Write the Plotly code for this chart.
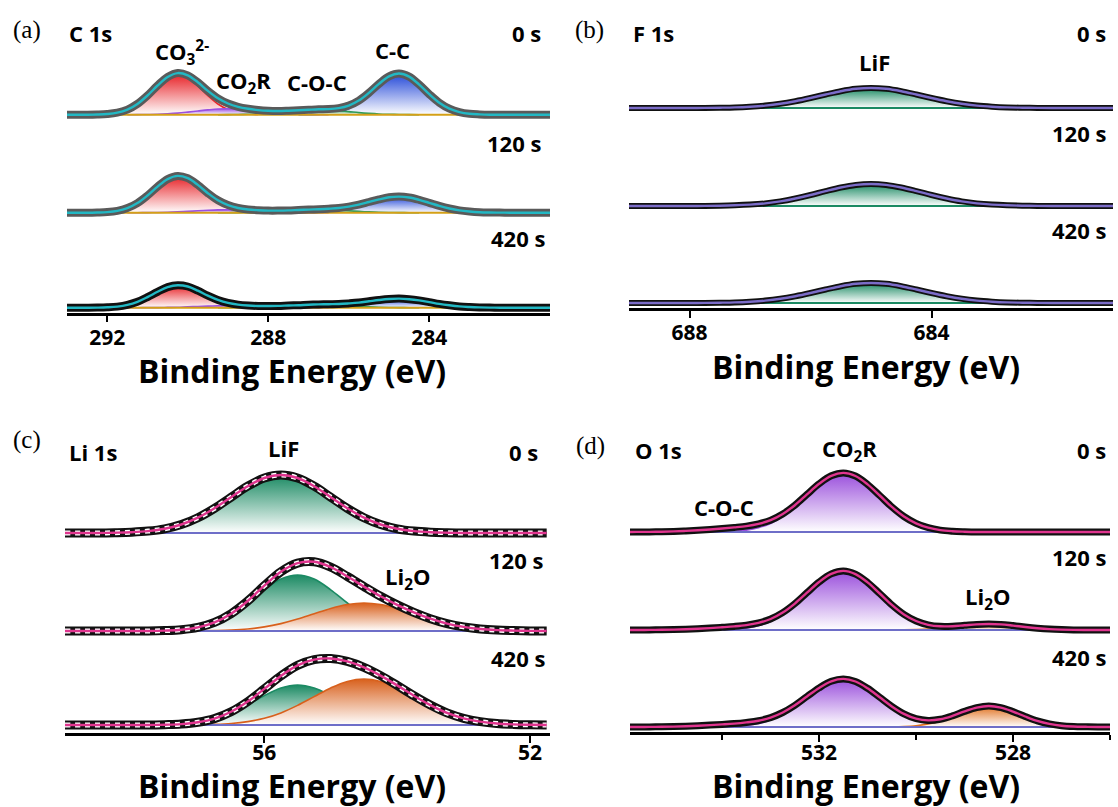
import plotly.graph_objects as go

W, H = 1118, 807
STEP = 0.25
TIMES = ["0 s", "120 s", "420 s"]

# ---------------- (a) C 1s ----------------
C1S_GRID_START, C1S_GRID_N = 293.0, 49
C1S_XRANGE = [293.0, 281.0]
C1S_TICKS = [292, 288, 284]
C1S_OFFSET = [198, 100, 5]
C1S_CO3_START = 292.25
C1S_CO3 = [
    [0.2, 0.7, 2.0, 5.1, 10.7, 19.0, 28.8, 36.8, 40, 36.8, 28.8, 19.0, 10.7, 5.1, 2.0, 0.7, 0.2],
    [0.2, 0.6, 1.8, 4.6, 9.6, 17.1, 25.9, 33.2, 36, 33.2, 25.9, 17.1, 9.6, 4.6, 1.8, 0.6, 0.2],
    [0.1, 0.4, 1.1, 2.8, 5.9, 10.5, 15.8, 20.3, 22, 20.3, 15.8, 10.5, 5.9, 2.8, 1.1, 0.4, 0.1],
]
C1S_CC_START = 287.25
C1S_CC = [
    [0, 0, 0.3, 0.9, 2.6, 6.0, 12.0, 20.5, 30.1, 38.0, 41, 38.0, 30.1, 20.5, 12.0, 6.0, 2.6, 0.9, 0.3, 0, 0],
    [0.1, 0.2, 0.5, 1.2, 2.3, 4.2, 6.8, 9.9, 12.9, 15.2, 16, 15.2, 12.9, 9.9, 6.8, 4.2, 2.3, 1.2, 0.5, 0.2, 0.1],
    [0, 0.1, 0.3, 0.7, 1.3, 2.4, 3.8, 5.6, 7.3, 8.5, 9, 8.5, 7.3, 5.6, 3.8, 2.4, 1.3, 0.7, 0.3, 0.1, 0],
]
C1S_CO2R_START = 291.5
C1S_CO2R = [
    [0, 0.1, 0.2, 0.4, 0.9, 1.6, 2.6, 3.7, 4.8, 5.7, 6, 5.7, 4.8, 3.7, 2.6, 1.6, 0.9, 0.4, 0.2, 0.1, 0],
    [0, 0, 0.1, 0.2, 0.4, 0.8, 1.3, 1.9, 2.4, 2.8, 3, 2.8, 2.4, 1.9, 1.3, 0.8, 0.4, 0.2, 0.1, 0, 0],
    [0, 0, 0.1, 0.1, 0.3, 0.5, 0.9, 1.2, 1.6, 1.9, 2, 1.9, 1.6, 1.2, 0.9, 0.5, 0.3, 0.1, 0.1, 0, 0],
]
C1S_COC_START = 289.25
C1S_COC = [
    [0, 0.1, 0.2, 0.4, 0.7, 1.3, 2.1, 3.1, 4.0, 4.7, 5, 4.7, 4.0, 3.1, 2.1, 1.3, 0.7, 0.4, 0.2, 0.1, 0],
    [0, 0, 0.1, 0.2, 0.4, 0.8, 1.3, 1.9, 2.4, 2.8, 3, 2.8, 2.4, 1.9, 1.3, 0.8, 0.4, 0.2, 0.1, 0, 0],
    [0, 0, 0.1, 0.2, 0.4, 0.8, 1.3, 1.9, 2.4, 2.8, 3, 2.8, 2.4, 1.9, 1.3, 0.8, 0.4, 0.2, 0.1, 0, 0],
]

# ---------------- (b) F 1s ----------------
F1S_GRID_START, F1S_GRID_N = 689.0, 33
F1S_XRANGE = [689.0, 681.0]
F1S_TICKS = [688, 684]
F1S_OFFSET = [200, 102, 5]
F1S_LIF_START = 687.75
F1S_LIF = [
    [0.1, 0.3, 0.6, 1.3, 2.4, 4.2, 6.8, 10, 13.5, 16.8, 19.2, 20, 19.2, 16.8, 13.5, 10, 6.8, 4.2, 2.4, 1.3, 0.6, 0.3, 0.1],
    [0.1, 0.3, 0.7, 1.4, 2.6, 4.6, 7.5, 11, 14.9, 18.5, 21.1, 22, 21.1, 18.5, 14.9, 11, 7.5, 4.6, 2.6, 1.4, 0.7, 0.3, 0.1],
    [0.1, 0.3, 0.6, 1.3, 2.4, 4.2, 6.8, 10, 13.5, 16.8, 19.2, 20, 19.2, 16.8, 13.5, 10, 6.8, 4.2, 2.4, 1.3, 0.6, 0.3, 0.1],
]

# ---------------- (c) Li 1s ----------------
LI1S_GRID_START, LI1S_GRID_N = 59.0, 30
LI1S_XRANGE = [59.0, 51.7]
LI1S_TICKS = [56, 52]
LI1S_OFFSET = [200, 102, 8]
LI1S_LIF_START = 58.25
LI1S_LIF = [
    [0.3, 0.8, 1.9, 4.2, 8.5, 15.3, 24.7, 35.8, 46.8, 55.0, 58, 55.0, 46.8, 35.8, 24.7, 15.3, 8.5, 4.2, 1.9, 0.8, 0.3],
    [0, 0, 0, 0.4, 1.3, 3.5, 8.2, 16.4, 28, 41.2, 51.9, 56, 51.9, 41.2, 28, 16.4, 8.2, 3.5, 1.3, 0.4, 0],
    [0, 0, 0, 0.3, 0.9, 2.5, 5.8, 11.7, 20, 29.4, 37, 40, 37, 29.4, 20, 11.7, 5.8, 2.5, 0.9, 0.3, 0],
]
LI1S_LI2O_START = 57.0
LI1S_LI2O = [
    None,
    [0.1, 0.4, 0.9, 2.0, 4.1, 7.4, 11.9, 17.3, 22.6, 26.5, 28, 26.5, 22.6, 17.3, 11.9, 7.4, 4.1, 2.0, 0.9, 0.4, 0.1],
    [0.2, 0.6, 1.5, 3.4, 6.7, 12.1, 19.6, 28.4, 37.1, 43.6, 46, 43.6, 37.1, 28.4, 19.6, 12.1, 6.7, 3.4, 1.5, 0.6, 0.2],
]

# ---------------- (d) O 1s ----------------
O1S_GRID_START, O1S_GRID_N = 536.0, 41
O1S_XRANGE = [535.9, 526.0]
O1S_TICKS = [532, 528]
O1S_MINOR_TICKS = [534, 530, 526]
O1S_OFFSET = [200, 102, 5]
O1S_COC_START = 536.0
O1S_COC = [
    [0, 0.1, 0.1, 0.3, 0.6, 1.1, 1.7, 2.5, 3.2, 3.8, 4, 3.8, 3.2, 2.5, 1.7, 1.1, 0.6, 0.3, 0.1, 0.1, 0],
    [0, 0, 0.1, 0.2, 0.4, 0.8, 1.3, 1.9, 2.4, 2.8, 3, 2.8, 2.4, 1.9, 1.3, 0.8, 0.4, 0.2, 0.1, 0, 0],
    [0, 0, 0.1, 0.2, 0.4, 0.8, 1.3, 1.9, 2.4, 2.8, 3, 2.8, 2.4, 1.9, 1.3, 0.8, 0.4, 0.2, 0.1, 0, 0],
]
O1S_CO2R_START = 534.0
O1S_CO2R = [
    [0.3, 0.8, 1.9, 4.3, 8.6, 15.5, 25.1, 36.5, 47.6, 55.9, 59, 55.9, 47.6, 36.5, 25.1, 15.5, 8.6, 4.3, 1.9, 0.8, 0.3],
    [0.3, 0.8, 1.9, 4.3, 8.6, 15.5, 25.1, 36.5, 47.6, 55.9, 59, 55.9, 47.6, 36.5, 25.1, 15.5, 8.6, 4.3, 1.9, 0.8, 0.3],
    [0.2, 0.6, 1.6, 3.5, 7.0, 12.6, 20.4, 29.7, 38.7, 45.5, 48, 45.5, 38.7, 29.7, 20.4, 12.6, 7.0, 3.5, 1.6, 0.6, 0.2],
]
O1S_LI2O_START = 530.5
O1S_LI2O = [
    None,
    [0, 0.1, 0.4, 0.9, 1.8, 3, 4.4, 5.6, 6, 5.6, 4.4, 3, 1.8, 0.9, 0.4, 0.1, 0],
    [0.2, 0.5, 1.3, 3.1, 6.1, 10.5, 15.4, 19.4, 21, 19.4, 15.4, 10.5, 6.1, 3.1, 1.3, 0.5, 0.2],
]

# ---------------- figure ----------------
fig = go.Figure()


def add_panel(k, grid_start, grid_n, offsets, comps, env_color, bg_color,
              raw_colors, raw_width, dots):
    xa = "x" if k == 1 else f"x{k}"
    ya = "y" if k == 1 else f"y{k}"
    grid = [round(grid_start - i * STEP, 3) for i in range(grid_n)]
    for t, off in enumerate(offsets):
        env = [0.0] * grid_n
        for name, start, series, color in comps:
            vals = series[t]
            if vals is None:
                continue
            xs = [round(start - i * STEP, 3) for i in range(len(vals))]
            for e, v in zip(xs, vals):
                idx = int(round((grid_start - e) / STEP))
                if 0 <= idx < grid_n:
                    env[idx] += v
            fig.add_trace(go.Scatter(
                x=[xs[0], xs[-1]], y=[off, off], mode="lines",
                line=dict(width=0, color="rgba(0,0,0,0)"),
                xaxis=xa, yaxis=ya, showlegend=False, hoverinfo="skip"))
            fig.add_trace(go.Scatter(
                x=xs, y=[off + v for v in vals], mode="lines",
                line=dict(color=color, width=1.6, shape="spline"),
                fill="tonexty",
                fillgradient=dict(type="vertical",
                                  colorscale=[[0, "rgba(255,255,255,1)"], [1, color]]),
                name=f"{name} ({TIMES[t]})",
                xaxis=xa, yaxis=ya, showlegend=False))
        fig.add_trace(go.Scatter(
            x=[grid[0], grid[-1]], y=[off, off], mode="lines",
            line=dict(color=bg_color, width=2),
            xaxis=xa, yaxis=ya, showlegend=False, hoverinfo="skip"))
        y_env = [off + v for v in env]
        fig.add_trace(go.Scatter(
            x=grid, y=y_env, mode="lines",
            line=dict(color=raw_colors[t], width=raw_width, shape="spline"),
            name=f"data ({TIMES[t]})", xaxis=xa, yaxis=ya, showlegend=False))
        if dots:
            fig.add_trace(go.Scatter(
                x=grid, y=y_env, mode="lines",
                line=dict(color="white", width=raw_width - 4, dash="dot", shape="spline"),
                xaxis=xa, yaxis=ya, showlegend=False, hoverinfo="skip"))
        fig.add_trace(go.Scatter(
            x=grid, y=y_env, mode="lines",
            line=dict(color=env_color, width=2.4, shape="spline"),
            name=f"fit ({TIMES[t]})", xaxis=xa, yaxis=ya, showlegend=False))


add_panel(1, C1S_GRID_START, C1S_GRID_N, C1S_OFFSET,
          [("CO3 2-", C1S_CO3_START, C1S_CO3, "#E8262B"),
           ("C-C", C1S_CC_START, C1S_CC, "#2448D8"),
           ("CO2R", C1S_CO2R_START, C1S_CO2R, "#9B4FE0"),
           ("C-O-C", C1S_COC_START, C1S_COC, "#2E9A5A")],
          "#22B8C4", "#D4A017", ["#5a5a5a", "#5a5a5a", "#111111"], 8, False)
add_panel(2, F1S_GRID_START, F1S_GRID_N, F1S_OFFSET,
          [("LiF", F1S_LIF_START, F1S_LIF, "#1B8A63")],
          "#7B6CC8", "#1B8A63", ["#111111"] * 3, 6, False)
add_panel(3, LI1S_GRID_START, LI1S_GRID_N, LI1S_OFFSET,
          [("LiF", LI1S_LIF_START, LI1S_LIF, "#1B8A63"),
           ("Li2O", LI1S_LI2O_START, LI1S_LI2O, "#D8601C")],
          "#E0358F", "#6E6EC8", ["#111111"] * 3, 9, True)
add_panel(4, O1S_GRID_START, O1S_GRID_N, O1S_OFFSET,
          [("C-O-C", O1S_COC_START, O1S_COC, "#6A7AD8"),
           ("CO2R", O1S_CO2R_START, O1S_CO2R, "#9A4FDC"),
           ("Li2O", O1S_LI2O_START, O1S_LI2O, "#E0701E")],
          "#E0358F", "#6E6EC8", ["#111111"] * 3, 7, False)

TICKFONT = dict(family="Open Sans", size=21, color="black", weight="bold")


def xaxis(rng, dom, ticks, anchor, standoff, minor=None):
    d = dict(range=rng, domain=dom, anchor=anchor, showline=True,
             linecolor="black", linewidth=2.5, ticks="outside", ticklen=7,
             tickwidth=2, tickcolor="black", tickvals=ticks, tickfont=TICKFONT,
             showgrid=False, zeroline=False, ticklabelstandoff=standoff)
    if minor is not None:
        d["minor"] = dict(tickvals=minor, ticks="outside", ticklen=5,
                          tickwidth=2, tickcolor="black", showgrid=False)
    return d


def yaxis(dom, anchor):
    return dict(domain=dom, anchor=anchor, range=[0, 268], visible=False,
                showgrid=False, zeroline=False)


fig.update_layout(
    width=W, height=H, margin=dict(l=0, r=0, t=0, b=0),
    paper_bgcolor="white", plot_bgcolor="rgba(0,0,0,0)", showlegend=False,
    xaxis=xaxis(C1S_XRANGE, [67 / W, 550 / W], C1S_TICKS, "y", -3),
    yaxis=yaxis([1 - 312.7 / H, 1 - 44.7 / H], "x"),
    xaxis2=xaxis(F1S_XRANGE, [629 / W, 1113 / W], F1S_TICKS, "y2", -3),
    yaxis2=yaxis([1 - 308 / H, 1 - 40 / H], "x2"),
    xaxis3=xaxis(LI1S_XRANGE, [65 / W, 550 / W], LI1S_TICKS, "y3", -8),
    yaxis3=yaxis([1 - 733 / H, 1 - 465 / H], "x3"),
    xaxis4=xaxis(O1S_XRANGE, [630 / W, 1110 / W], O1S_TICKS, "y4", -7, O1S_MINOR_TICKS),
    yaxis4=yaxis([1 - 732 / H, 1 - 464 / H], "x4"),
)

AXIS_TITLE = "Binding Energy (eV)"
TITLE_POS = [(292, 370), (866, 366), (292, 785), (866, 785)]
for x, y in TITLE_POS:
    fig.add_annotation(text=AXIS_TITLE, x=x / W, y=1 - y / H, xref="paper", yref="paper",
                       xanchor="center", yanchor="middle", showarrow=False,
                       font=dict(family="Open Sans", size=32, color="black", weight="bold"))

LABELS = [
    ("(a)", 27, 30, "center", "serif"),
    ("C 1s", 67, 33, "left", "sans"),
    ("0 s", 543, 33, "right", "sans"),
    ("CO<sub>3</sub><sup>2-</sup>", 182, 52, "center", "sans"),
    ("CO<sub>2</sub>R", 243, 82, "center", "sans"),
    ("C-O-C", 317, 82, "center", "sans"),
    ("C-C", 392, 50, "center", "sans"),
    ("120 s", 543, 143, "right", "sans"),
    ("420 s", 547, 238, "right", "sans"),
    ("(b)", 589, 30, "center", "serif"),
    ("F 1s", 631, 33, "left", "sans"),
    ("0 s", 1108, 33, "right", "sans"),
    ("LiF", 874, 62, "center", "sans"),
    ("120 s", 1108, 133, "right", "sans"),
    ("420 s", 1108, 230, "right", "sans"),
    ("(c)", 27, 440, "center", "serif"),
    ("Li 1s", 67, 452, "left", "sans"),
    ("LiF", 283, 448, "center", "sans"),
    ("0 s", 540, 452, "right", "sans"),
    ("120 s", 545, 560, "right", "sans"),
    ("Li<sub>2</sub>O", 407, 578, "center", "sans"),
    ("420 s", 547, 658, "right", "sans"),
    ("(d)", 590, 446, "center", "serif"),
    ("O 1s", 633, 450, "left", "sans"),
    ("CO<sub>2</sub>R", 849, 450, "center", "sans"),
    ("0 s", 1108, 450, "right", "sans"),
    ("C-O-C", 724, 507, "center", "sans"),
    ("120 s", 1108, 557, "right", "sans"),
    ("Li<sub>2</sub>O", 987, 598, "center", "sans"),
    ("420 s", 1108, 657, "right", "sans"),
]
for text, x, y, anchor, kind in LABELS:
    if kind == "serif":
        font = dict(family="Liberation Serif", size=25, color="black")
    else:
        font = dict(family="Open Sans", size=22, color="black", weight="bold")
    fig.add_annotation(text=text, x=x / W, y=1 - y / H, xref="paper", yref="paper",
                       xanchor=anchor, yanchor="middle", showarrow=False, font=font)

fig.write_html("out.html")
